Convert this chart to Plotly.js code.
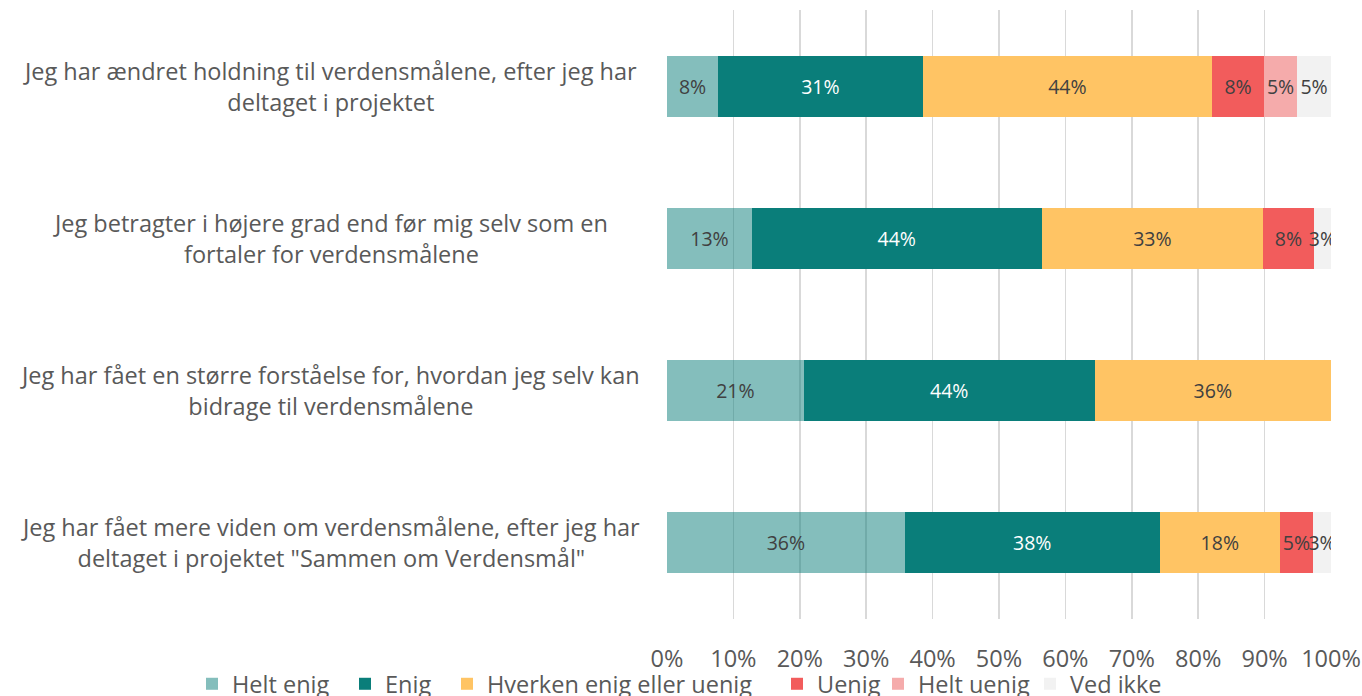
<!DOCTYPE html>
<html>
<head>
<meta charset="utf-8">
<script src="https://cdn.plot.ly/plotly-3.0.1.min.js"></script>
<style>html,body{margin:0;padding:0;background:#fff;}#chart{width:1362px;height:696px;}</style>
</head>
<body>
<div id="chart"></div>
<script>
const categories = [
  'Jeg har ændret holdning til verdensmålene, efter jeg har<br>deltaget i projektet',
  'Jeg betragter i højere grad end før mig selv som en<br>fortaler for verdensmålene',
  'Jeg har fået en større forståelse for, hvordan jeg selv kan<br>bidrage til verdensmålene',
  'Jeg har fået mere viden om verdensmålene, efter jeg har<br>deltaget i projektet "Sammen om Verdensmål"'
];
const seriesNames = ['Helt enig', 'Enig', 'Hverken enig eller uenig', 'Uenig', 'Helt uenig', 'Ved ikke'];
const heltEnig   = [7.7, 12.8, 20.6, 35.8];
const enig       = [30.8, 43.6, 43.8, 38.4];
const hverken    = [43.6, 33.4, 35.6, 18.1];
const uenig      = [7.8, 7.6, 0, 5.0];
const heltUenig  = [5.0, 0, 0, 0];
const vedIkke    = [5.1, 2.6, 0, 2.7];
const tickVals   = [0,10,20,30,40,50,60,70,80,90,100];

const values = [heltEnig, enig, hverken, uenig, heltUenig, vedIkke];
const colors = ['rgba(10,126,122,0.5)', '#0A7E7A', '#FFC464', '#F25C5C', '#F5ABAB', '#F2F2F2'];
const textColors = ['#404040', '#FFFFFF', '#404040', '#404040', '#404040', '#404040'];
const legendX = [192, 345, 447, 777, 878, 1030];
const FONT = 'Open Sans, sans-serif';
const legendIds = ['legend', 'legend2', 'legend3', 'legend4', 'legend5', 'legend6'];

const traces = values.map((v, i) => ({
  type: 'bar',
  orientation: 'h',
  name: seriesNames[i],
  legend: legendIds[i],
  y: categories,
  x: v,
  marker: {color: colors[i], line: {width: 0}},
  text: v.map(val => val > 0 ? Math.round(val) + '%' : ''),
  textposition: 'inside',
  insidetextanchor: 'middle',
  textangle: 0,
  constraintext: 'none',
  textfont: {family: FONT, size: 19.5, color: textColors[i]},
  hoverinfo: 'name+x'
}));

const annotations = categories.map(c => ({
  xref: 'paper', yref: 'y', x: -0.507, y: c, xanchor: 'center', yanchor: 'middle',
  text: c, showarrow: false, align: 'center',
  font: {family: FONT, size: 23.5, color: '#595959'}
}));

const layout = {
  barmode: 'stack',
  bargap: 0.6,
  width: 1362, height: 696,
  margin: {l: 667, r: 31, t: 10, b: 77, autoexpand: false},
  paper_bgcolor: '#fff', plot_bgcolor: '#fff',
  showlegend: true,
  xaxis: {range: [0, 100], tickvals: tickVals, ticktext: tickVals.map(t => t + '%'),
          showgrid: true, gridcolor: '#D9D9D9', gridwidth: 1.5, zeroline: false,
          ticks: 'outside', ticklen: 19, tickcolor: 'rgba(0,0,0,0)', automargin: false,
          tickfont: {family: FONT, size: 23.5, color: '#595959'}, showline: false, fixedrange: true},
  yaxis: {autorange: 'reversed', showticklabels: false, showgrid: false, zeroline: false, fixedrange: true, automargin: false},
  annotations: annotations
};
legendIds.forEach((id, i) => {
  layout[id] = {orientation: 'h', xref: 'container', yref: 'container',
    x: legendX[i] / 1362, xanchor: 'left', y: 12 / 696, yanchor: 'middle', itemwidth: 30,
    bgcolor: 'rgba(0,0,0,0)',
    font: {family: FONT, size: 23.5, color: '#595959'}};
});

Plotly.newPlot('chart', traces, layout, {displayModeBar: false, staticPlot: true});
</script>
</body>
</html>
